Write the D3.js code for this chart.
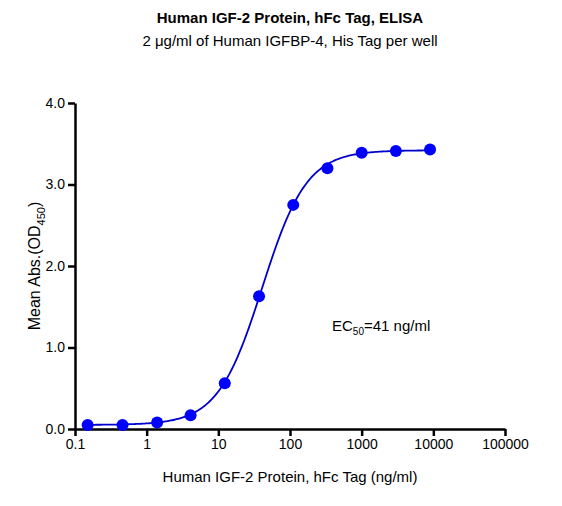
<!DOCTYPE html>
<html><head><meta charset="utf-8">
<script src="https://cdn.jsdelivr.net/npm/d3@7"></script>
<style>body{margin:0;background:#fff}text{font-family:"Liberation Sans",Arial,sans-serif}</style>
</head><body><svg id="c" width="562" height="506"></svg>
<script>
// data
const conc = [0.15, 0.46, 1.4, 4.1, 12.3, 37, 111, 333, 1000, 3000, 9000];
const absVal = [0.05, 0.05, 0.08, 0.17, 0.56, 1.63, 2.75, 3.2, 3.39, 3.41, 3.43];
const xTicks = [0.1, 1, 10, 100, 1000, 10000, 100000];
const yTicks = [0, 1, 2, 3, 4];
// 4PL fit parameters
const fitBottom = 0.05, fitTop = 3.42, ec50 = 41, hill = 1.4;

const svg = d3.select("#c");
const x = d3.scaleLog().domain([0.1, 100000]).range([75, 505]);
const y = d3.scaleLinear().domain([0, 4]).range([429, 103]);

// axes
const xa = svg.append("g").attr("transform", "translate(0,429)")
  .call(d3.axisBottom(x).tickValues(xTicks).tickFormat(d3.format("~f")).tickSize(7).tickSizeOuter(0));
const ya = svg.append("g").attr("transform", "translate(75,0)")
  .call(d3.axisLeft(y).tickValues(yTicks).tickSize(7).tickSizeOuter(0));
[xa, ya].forEach(a => {
  a.select(".domain").attr("stroke-width", 2.5);
  a.selectAll("line").attr("stroke-width", 2.5);
  a.selectAll("text").attr("font-size", 14).attr("fill", "#000");
});

// fitted curve
const fit = d3.range(0, 301).map(i => {
  const c = Math.pow(10, Math.log10(0.15) + i * (Math.log10(9000) - Math.log10(0.15)) / 300);
  return [c, fitBottom + (fitTop - fitBottom) / (1 + Math.pow(ec50 / c, hill))];
});
svg.append("path").datum(fit)
  .attr("d", d3.line().x(d => x(d[0])).y(d => y(d[1])))
  .attr("fill", "none").attr("stroke", "#0000cc").attr("stroke-width", 1.8);

svg.selectAll("circle").data(conc).join("circle")
  .attr("cx", d => x(d)).attr("cy", (d, i) => y(absVal[i]))
  .attr("r", 6).attr("fill", "#0000ff");

// texts
svg.append("text").attr("x", 290).attr("y", 23).attr("text-anchor", "middle")
  .attr("font-size", 15).attr("font-weight", "bold").text("Human IGF-2 Protein, hFc Tag, ELISA");
svg.append("text").attr("x", 290).attr("y", 46).attr("text-anchor", "middle")
  .attr("font-size", 15).text("2 μg/ml of Human IGFBP-4, His Tag per well");
svg.append("text").attr("x", 290).attr("y", 482).attr("text-anchor", "middle")
  .attr("font-size", 15).text("Human IGF-2 Protein, hFc Tag (ng/ml)");
const yl = svg.append("text").attr("transform", "translate(40,266) rotate(-90)")
  .attr("text-anchor", "middle").attr("font-size", 16);
yl.append("tspan").text("Mean Abs.(OD");
yl.append("tspan").attr("font-size", 11).attr("dy", 5).text("450");
yl.append("tspan").attr("dy", -5).text(")");
const ec = svg.append("text").attr("x", 332).attr("y", 331).attr("font-size", 15);
ec.append("tspan").text("EC");
ec.append("tspan").attr("font-size", 10).attr("dy", 4).text("50");
ec.append("tspan").attr("dy", -4).text("=41 ng/ml");
</script></body></html>
